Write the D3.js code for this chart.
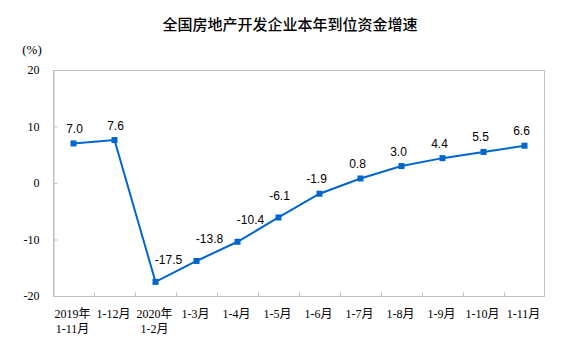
<!DOCTYPE html>
<html><head><meta charset="utf-8">
<script src="https://cdn.jsdelivr.net/npm/d3@7"></script>
<style>body{margin:0;background:#fff}</style>
</head><body><svg id="c" width="580" height="358"></svg>
<script>
const categories = [["2019年","1-11月"],["1-12月"],["2020年","1-2月"],["1-3月"],["1-4月"],["1-5月"],["1-6月"],["1-7月"],["1-8月"],["1-9月"],["1-10月"],["1-11月"]];
const values = [7.0, 7.6, -17.5, -13.8, -10.4, -6.1, -1.9, 0.8, 3.0, 4.4, 5.5, 6.6];
const yTicks = [-20, -10, 0, 10, 20];
const title = "全国房地产开发企业本年到位资金增速";
const unit = "(%)";

const svg = d3.select("#c");
const L = 53, R = 545, T = 70, B = 296;
const x = d3.scaleBand().domain(d3.range(categories.length)).range([L, R]);
const y = d3.scaleLinear().domain([-20, 20]).range([B, T]);
const grey = "#BFBFBF", blue = "#0066CC";

svg.append("text").attr("x", 290).attr("y", 30).attr("text-anchor", "middle")
  .attr("font-family", "'Noto Sans CJK SC'").attr("font-weight", 500).attr("font-size", 15).attr("fill", "#000").text(title);
svg.append("text").attr("x", 32).attr("y", 54).attr("text-anchor", "middle")
  .attr("font-family", "'Liberation Serif'").attr("font-size", 13).attr("fill", "#000").text(unit);

// frame
svg.append("rect").attr("x", L + 0.5).attr("y", T + 0.5).attr("width", R - L - 1).attr("height", B - T)
  .attr("fill", "none").attr("stroke", grey).attr("stroke-width", 1);

// y axis
const ya = svg.append("g").attr("transform", `translate(${L + 0.5},0)`)
  .call(d3.axisLeft(y).tickValues(yTicks).tickSize(-4).tickPadding(14).tickFormat(d => String(d)));
ya.select(".domain").attr("stroke", grey);
ya.selectAll(".tick line").attr("stroke", grey);
ya.selectAll(".tick text").attr("font-family", "'Liberation Serif'").attr("font-size", 12).attr("fill", "#000");

// x axis ticks at band boundaries
const xa = svg.append("g").attr("transform", `translate(0,${B + 0.5})`);
xa.append("line").attr("x1", L).attr("x2", R).attr("stroke", grey);
xa.selectAll("line.t").data(d3.range(1, categories.length)).join("line").attr("class", "t")
  .attr("x1", i => Math.round(x(i)) + 0.5).attr("x2", i => Math.round(x(i)) + 0.5)
  .attr("y1", 0).attr("y2", -4).attr("stroke", grey);
const xl = xa.selectAll("text").data(categories).join("text")
  .attr("x", (d, i) => x(i) + x.bandwidth() / 2 - 1).attr("y", 21)
  .attr("text-anchor", "middle").attr("font-family", "'Liberation Serif','Noto Sans CJK SC'")
  .attr("font-size", 12).attr("fill", "#000");
xl.selectAll("tspan").data(d => d).join("tspan")
  .attr("x", function () { return d3.select(this.parentNode).attr("x"); })
  .attr("dy", (d, j) => j === 0 ? 0 : 15).text(d => d);

// line
const cx = i => x(i) + x.bandwidth() / 2;
svg.append("path").datum(values)
  .attr("d", d3.line().x((d, i) => cx(i)).y(d => y(d)))
  .attr("fill", "none").attr("stroke", blue).attr("stroke-width", 2);
svg.selectAll("rect.m").data(values).join("rect").attr("class", "m")
  .attr("x", (d, i) => cx(i) - 3).attr("y", d => y(d) - 3).attr("width", 6).attr("height", 6).attr("fill", blue);

// labels
svg.selectAll("text.v").data(values).join("text").attr("class", "v")
  .attr("x", (d, i) => cx(i) + (d <= -10 ? 13 : d < -5 ? 1 : (d < 0 || (d > 0 && d < 7)) ? -3 : 1))
  .attr("y", d => y(d) + ((d < -5) ? -17.5 : -10.5))
  .attr("text-anchor", "middle").attr("font-family", "'Liberation Sans'").attr("font-size", 12).attr("fill", "#000")
  .text(d => d.toFixed(1));
</script></body></html>
